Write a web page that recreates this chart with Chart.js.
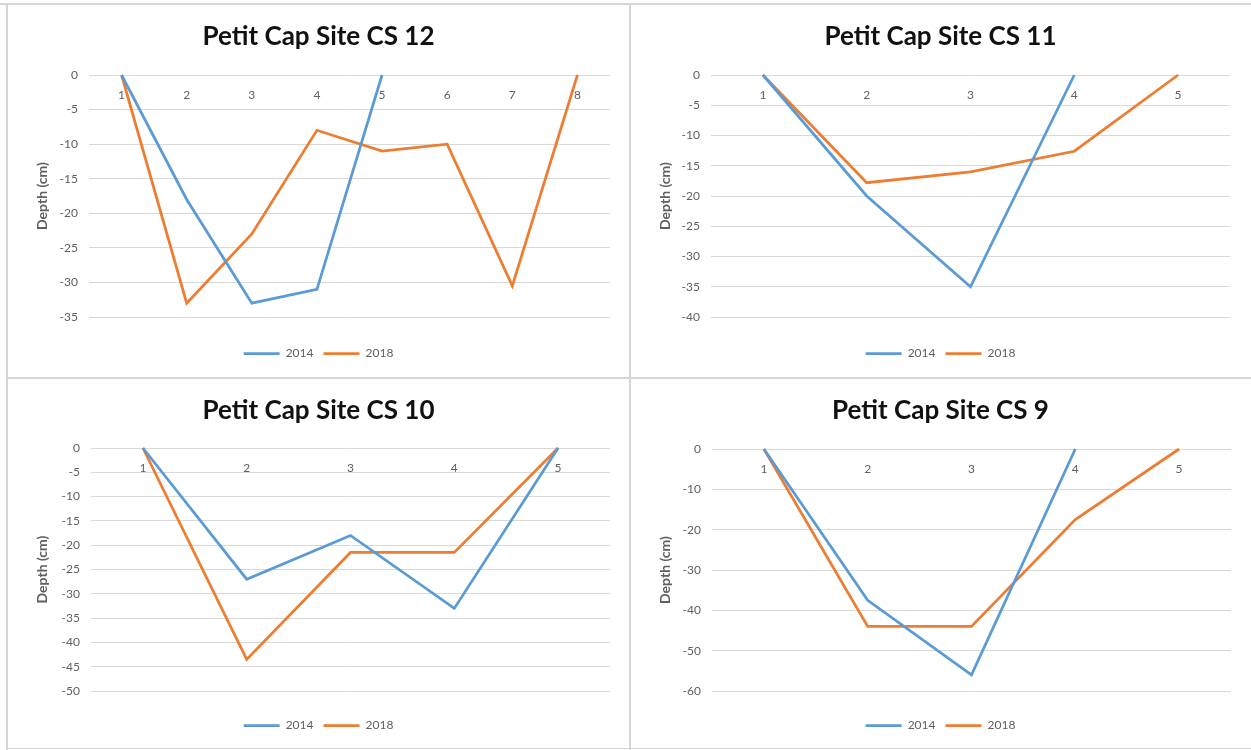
<!DOCTYPE html>
<html>
<head>
<meta charset="utf-8">
<script src="https://cdn.jsdelivr.net/npm/chart.js@4.4.1/dist/chart.umd.min.js"></script>
<style>
  body { margin: 0; background: #fff; width: 1251px; height: 750px; position: relative; overflow: hidden; }
  canvas { position: absolute; }
  .rule { position: absolute; background: #d6d6d6; }
</style>
</head>
<body>
<div class="rule" style="left:0;top:3px;width:1251px;height:2px"></div>
<div class="rule" style="left:6px;top:4px;width:2px;height:746px"></div>
<div class="rule" style="left:629px;top:4px;width:2px;height:746px"></div>
<div class="rule" style="left:6px;top:377px;width:1245px;height:2px"></div>
<div class="rule" style="left:6px;top:748px;width:1245px;height:1px"></div>

<canvas id="cs12" width="623" height="374" style="left:7px;top:4px"></canvas>
<canvas id="cs11" width="621" height="374" style="left:630px;top:4px"></canvas>
<canvas id="cs10" width="623" height="371" style="left:7px;top:378px"></canvas>
<canvas id="cs9" width="621" height="371" style="left:630px;top:378px"></canvas>

<script>
// profondeurs (cm)
const cs12Points = ['1', '2', '3', '4', '5', '6', '7', '8'];
const cs12_2014 = [0, -18, -33, -31, 0, null, null, null];
const cs12_2018 = [0, -33, -23, -8, -11, -10, -30.5, 0];

const cs11Points = ['1', '2', '3', '4', '5'];
const cs11_2014 = [0, -20, -35, 0, null];
const cs11_2018 = [0, -17.8, -16, -12.6, 0];

const cs10Points = ['1', '2', '3', '4', '5'];
const cs10_2014 = [0, -27, -18, -33, 0];
const cs10_2018 = [0, -43.5, -21.5, -21.5, 0];

const cs9Points = ['1', '2', '3', '4', '5'];
const cs9_2014 = [0, -37.5, -56, 0, null];
const cs9_2018 = [0, -44, -44, -17.5, 0];

// bornes de l'axe des profondeurs : [min, pas]
const cs12Axis = [-35, 5];
const cs11Axis = [-40, 5];
const cs10Axis = [-50, 5];
const cs9Axis = [-60, 10];

const blue = '#5b9bd5';
const orange = '#ed7d31';
const grey = '#606060';

Chart.defaults.font.family = 'Lato, Carlito, sans-serif';
Chart.defaults.animation = false;

function drawSite(id, title, points, y2014, y2018, axis, box) {
  return new Chart(document.getElementById(id), {
    type: 'line',
    data: {
      labels: points,
      datasets: [
        { label: '2014', data: y2014, borderColor: blue, backgroundColor: blue, borderWidth: 2.75, pointRadius: 0, clip: false },
        { label: '2018', data: y2018, borderColor: orange, backgroundColor: orange, borderWidth: 2.75, pointRadius: 0, clip: false }
      ]
    },
    options: {
      responsive: false,
      layout: { padding: { left: 0, right: 0, top: 0, bottom: box.bottom } },
      plugins: {
        title: {
          display: true,
          text: title,
          color: '#111',
          font: { size: 26, weight: 'bold' },
          padding: { top: 17.4, bottom: box.titleGap }
        },
        legend: {
          position: 'bottom',
          title: { display: true, text: '', font: { size: 10 }, padding: { top: 0, bottom: box.legendGap - 12 } },
          labels: {
            color: grey,
            font: { size: 12 },
            usePointStyle: true,
            pointStyle: 'line',
            pointStyleWidth: 36,
            padding: 10
          }
        },
        tooltip: { enabled: false }
      },
      scales: {
        x: {
          position: 'top',
          offset: true,
          grid: { display: false },
          border: { display: false },
          ticks: { mirror: true, padding: 13, color: grey, font: { size: 12 }, maxRotation: 0 },
          afterFit: (s) => { s.height = 0; }
        },
        y: {
          min: axis[0],
          max: 0,
          ticks: { stepSize: axis[1], color: grey, font: { size: 12 }, padding: 11 },
          grid: { color: '#d9d9d9', drawTicks: false },
          border: { display: false },
          title: { display: true, text: 'Depth (cm)', color: grey, font: { size: 14, weight: 'bold' }, padding: { top: 26.6 } },
          afterFit: (s) => { s.width = box.axisWidth; }
        },
        // marge droite vide, pour garder titre et légende centrés sur le panneau
        edge: {
          type: 'linear',
          position: 'right',
          grid: { display: false },
          border: { display: false },
          ticks: { display: false },
          afterFit: (s) => { s.width = box.right; }
        }
      }
    }
  });
}

drawSite('cs12', 'Petit Cap Site CS 12', cs12Points, cs12_2014, cs12_2018, cs12Axis,
  { right: 20, bottom: 8.5, titleGap: 22.4, legendGap: 20.5, axisWidth: 82 });
drawSite('cs11', 'Petit Cap Site CS 11', cs11Points, cs11_2014, cs11_2018, cs11Axis,
  { right: 21, bottom: 8.5, titleGap: 22.4, legendGap: 20.5, axisWidth: 81 });
drawSite('cs10', 'Petit Cap Site CS 10', cs10Points, cs10_2014, cs10_2018, cs10Axis,
  { right: 20, bottom: 7.5, titleGap: 21.4, legendGap: 18.5, axisWidth: 84 });
drawSite('cs9', 'Petit Cap Site CS 9', cs9Points, cs9_2014, cs9_2018, cs9Axis,
  { right: 20, bottom: 7.5, titleGap: 22.4, legendGap: 18.5, axisWidth: 82 });
</script>
</body>
</html>
